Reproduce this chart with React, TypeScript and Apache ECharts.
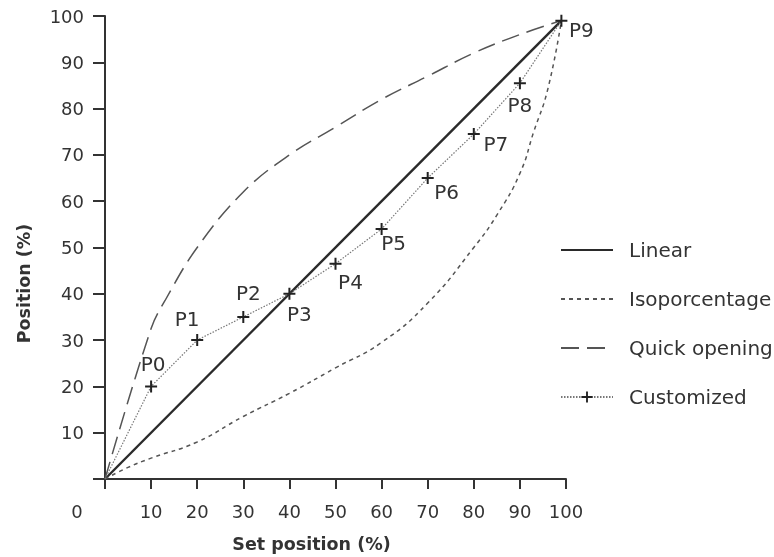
import React, { useEffect, useRef } from "react";
import * as echarts from "echarts";

const FONT = "'DejaVu Sans', 'Liberation Sans', Arial, sans-serif";

const linearX = [0, 99];
const linearY = [0, 99];

const isoX = [0, 5, 10, 20, 30, 40, 50, 60, 70, 80, 85, 90, 93, 96, 99];
const isoY = [0, 2.5, 4.5, 8, 13.5, 18.5, 24, 29.5, 38, 50, 57, 66, 75, 84, 99];

const quickX = [0, 10, 13, 20, 30, 40, 50, 60, 70, 80, 90, 99];
const quickY = [0, 32.5, 38.5, 50, 62, 70, 76, 82, 87, 92, 96, 99];

const customX = [0, 10, 20, 30, 40, 50, 60, 70, 80, 90, 99];
const customY = [0, 20, 30, 35, 40, 46.5, 54, 65, 74.5, 85.5, 99];
const customNames = ["", "P0", "P1", "P2", "P3", "P4", "P5", "P6", "P7", "P8", "P9"];
const labelOffsets: number[][] = [
  [0, 0], [2, -22], [-10, -21], [5, -24], [10, 20], [15, 18], [12, 14], [19, 14], [22, 10], [0, 22], [20, 9],
];

const seriesNames = ["Linear", "Isoporcentage", "Quick opening", "Customized"];
const xTicks = { min: 0, max: 100, interval: 10 };

const PLUS = "path://M-1,-6H1V-1H6V1H1V6H-1V1H-6V-1H-1Z";

function zip(xs: number[], ys: number[]) {
  return xs.map((x, i) => [x, ys[i]]);
}

export default function App() {
  const ref = useRef<HTMLDivElement>(null);
  useEffect(() => {
    const chart = echarts.init(ref.current!, null, { renderer: "svg" });
    const axisColor = "#333";
    const customData = customX.map((x, i) => {
      if (i === 0) return { value: [x, customY[i]], symbol: "none", label: { show: false } };
      return {
        value: [x, customY[i]],
        name: customNames[i],
        label: { show: true, offset: labelOffsets[i] },
      };
    });
    const hiddenSym = { color: "rgba(0,0,0,0)", borderWidth: 0, opacity: 0 };
    chart.setOption({
      animation: false,
      grid: { left: 105, top: 16, right: 208, bottom: 78, outerBoundsMode: "none" },
      legend: {
        orient: "vertical",
        left: 555,
        top: 235,
        itemWidth: 52,
        itemHeight: 14,
        itemGap: 29,
        data: [
          { name: seriesNames[0], itemStyle: hiddenSym },
          { name: seriesNames[1], itemStyle: hiddenSym },
          { name: seriesNames[2], itemStyle: hiddenSym },
          { name: seriesNames[3] },
        ],
        textStyle: { fontSize: 20, lineHeight: 20, color: "#333", fontFamily: FONT, padding: [0, 0, 0, 11] },
      },
      xAxis: {
        type: "value",
        min: xTicks.min,
        max: xTicks.max,
        interval: xTicks.interval,
        name: "Set position (%)",
        nameLocation: "middle",
        nameGap: 56,
        nameTextStyle: { fontWeight: "bold", fontSize: 17.5, color: "#333", fontFamily: FONT, padding: [0, 48, 0, 0] },
        axisLine: { lineStyle: { color: axisColor, width: 2 } },
        axisTick: { length: 10, lineStyle: { color: axisColor, width: 2 } },
        splitLine: { show: false },
        axisLabel: {
          margin: 23,
          fontSize: 18,
          color: "#333",
          fontFamily: FONT,
          formatter: (v: number) => (v === 0 ? "{z|0}" : String(v)),
          rich: { z: { padding: [0, 56, 0, 0], fontSize: 18, color: "#333", fontFamily: FONT } },
        },
      },
      yAxis: {
        type: "value",
        min: xTicks.min,
        max: xTicks.max,
        interval: xTicks.interval,
        name: "Position (%)",
        nameLocation: "middle",
        nameGap: 72,
        nameTextStyle: { fontWeight: "bold", fontSize: 17.5, color: "#333", fontFamily: FONT, padding: [0, 72, 0, 0] },
        axisLine: { lineStyle: { color: axisColor, width: 2 } },
        axisTick: { length: 12, lineStyle: { color: axisColor, width: 2 } },
        splitLine: { show: false },
        axisLabel: {
          margin: 21,
          fontSize: 18,
          color: "#333",
          fontFamily: FONT,
          formatter: (v: number) => (v === 0 ? "" : String(v)),
        },
      },
      series: [
        {
          name: "Linear",
          type: "line",
          data: zip(linearX, linearY),
          symbol: "none",
          lineStyle: { color: "#2a2a2a", width: 2.4, type: "solid" },
          itemStyle: { color: "#2a2a2a" },
        },
        {
          name: "Isoporcentage",
          type: "line",
          data: zip(isoX, isoY),
          symbol: "none",
          smooth: true,
          lineStyle: { color: "#555", width: 1.5, type: [4, 4] },
          itemStyle: { color: "#555" },
        },
        {
          name: "Quick opening",
          type: "line",
          data: zip(quickX, quickY),
          symbol: "none",
          smooth: 0.4,
          lineStyle: { color: "#555", width: 1.5, type: [18, 8] },
          itemStyle: { color: "#555" },
        },
        {
          name: "Customized",
          type: "line",
          data: customData,
          symbol: PLUS,
          symbolSize: 12,
          showSymbol: true,
          lineStyle: { color: "#777", width: 1.2, type: [1.5, 1.5] },
          itemStyle: { color: "#222" },
          label: {
            show: true,
            position: "inside",
            formatter: (p: any) => p.name,
            fontSize: 20,
            color: "#333",
            fontFamily: FONT,
            align: "center",
            verticalAlign: "middle",
          },
        },
      ],
    });
    return () => chart.dispose();
  }, []);
  return <div ref={ref} style={{ position: "fixed", left: 0, top: 0, width: 774, height: 557 }} />;
}
